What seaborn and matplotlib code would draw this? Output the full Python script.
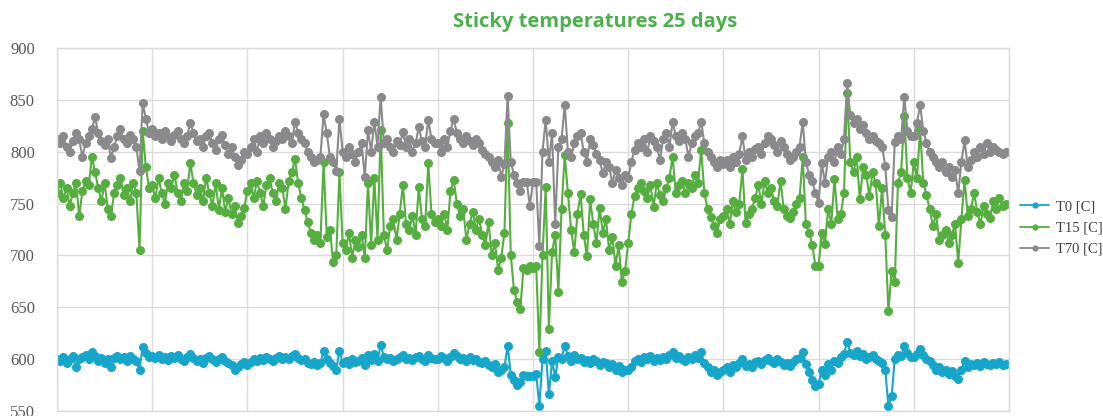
import matplotlib
matplotlib.use("Agg")
import matplotlib.pyplot as plt
import numpy as np
import pandas as pd
import seaborn as sns
from matplotlib.ticker import MultipleLocator, NullFormatter

# Temperature readings over 25 days (300 samples, 12 per day)
t0 = [
    600, 598, 602, 596, 600, 603, 592, 600, 602, 604, 600, 607, 603, 598, 601, 596, 600, 592, 601, 603, 600, 602, 598, 603, 600, 598, 590, 612, 606, 602,
    603, 601, 604, 600, 602, 599, 603, 601, 604, 600, 598, 602, 605, 601, 598, 600, 596, 601, 603, 600, 597, 600, 602, 598, 596, 594, 590, 592, 595, 597,
    594, 597, 600, 598, 601, 599, 602, 600, 598, 601, 603, 600, 602, 600, 603, 605, 601, 599, 600, 596, 595, 597, 594, 596, 608, 600, 596, 593, 590, 608,
    596, 598, 595, 600, 597, 598, 601, 594, 604, 599, 605, 598, 614, 602, 600, 601, 598, 600, 602, 604, 600, 601, 599, 602, 603, 600, 598, 604, 601, 600,
    600, 603, 601, 598, 602, 606, 603, 600, 601, 598, 602, 599, 600, 597, 596, 598, 594, 592, 595, 588, 590, 592, 613, 585, 580, 575, 578, 585, 584, 584,
    584, 586, 555, 600, 608, 566, 598, 583, 602, 600, 613, 603, 598, 604, 600, 601, 597, 599, 596, 600, 598, 594, 597, 596, 592, 595, 590, 593, 588, 590,
    590, 592, 598, 600, 597, 602, 600, 603, 598, 601, 599, 602, 600, 604, 607, 601, 603, 600, 598, 602, 600, 604, 601, 607, 596, 592, 588, 590, 585, 588,
    590, 592, 588, 594, 592, 596, 600, 593, 595, 592, 597, 598, 595, 599, 601, 598, 596, 600, 597, 594, 596, 593, 597, 600, 601, 607, 595, 588, 580, 574,
    576, 590, 585, 595, 590, 598, 596, 602, 605, 617, 606, 604, 608, 603, 605, 600, 602, 604, 600, 598, 596, 590, 555, 564, 600, 604, 603, 613, 606, 602,
    602, 605, 610, 604, 600, 598, 594, 590, 592, 588, 590, 586, 589, 584, 581, 590, 598, 592, 595, 594, 596, 593, 597, 595, 594, 596, 595, 597, 594, 595,
]

t15 = [
    760, 770, 755, 765, 748, 760, 770, 738, 762, 772, 768, 795, 780, 765, 752, 770, 745, 738, 760, 768, 775, 758, 765, 752, 770, 760, 705, 820, 785, 765,
    768, 755, 775, 760, 750, 770, 765, 778, 760, 752, 770, 762, 789, 770, 758, 765, 752, 775, 760, 748, 770, 744, 765, 742, 755, 740, 748, 731, 738, 746,
    762, 770, 755, 772, 760, 748, 768, 775, 760, 752, 770, 765, 745, 772, 780, 793, 770, 755, 744, 732, 722, 715, 720, 712, 790, 718, 725, 694, 700, 780,
    712, 705, 722, 698, 715, 708, 720, 698, 770, 710, 775, 715, 821, 720, 705, 728, 735, 715, 740, 768, 730, 725, 738, 720, 766, 735, 728, 789, 740, 732,
    735, 728, 740, 725, 762, 773, 750, 738, 745, 715, 730, 742, 725, 735, 720, 710, 732, 700, 712, 686, 698, 722, 828, 700, 667, 655, 648, 688, 686, 690,
    688, 690, 607, 700, 766, 629, 703, 720, 665, 745, 797, 760, 725, 703, 740, 759, 720, 699, 754, 730, 712, 746, 722, 735, 705, 718, 690, 710, 674, 685,
    712, 740, 757, 765, 770, 762, 755, 768, 747, 770, 758, 752, 765, 775, 795, 760, 768, 772, 760, 770, 765, 778, 770, 802, 760, 745, 737, 728, 722, 735,
    738, 745, 730, 752, 742, 750, 783, 731, 740, 745, 755, 768, 750, 772, 760, 765, 752, 748, 772, 745, 738, 736, 742, 750, 755, 795, 730, 722, 710, 690,
    690, 722, 711, 745, 730, 774, 735, 740, 760, 857, 790, 780, 795, 754, 785, 778, 757, 780, 770, 728, 765, 720, 646, 685, 674, 770, 780, 834, 775, 760,
    790, 775, 821, 770, 758, 745, 728, 740, 715, 720, 725, 712, 720, 730, 693, 735, 773, 738, 745, 760, 742, 730, 748, 740, 736, 752, 745, 755, 748, 750,
]

t70 = [
    812, 808, 815, 805, 800, 810, 818, 812, 795, 808, 815, 822, 833, 818, 810, 806, 812, 794, 805, 815, 822, 812, 808, 816, 812, 805, 781, 847, 832, 818,
    822, 815, 818, 812, 820, 814, 810, 816, 820, 812, 808, 815, 828, 818, 810, 812, 805, 815, 818, 808, 802, 812, 816, 806, 798, 805, 795, 787, 792, 800,
    798, 805, 812, 800, 815, 808, 818, 812, 805, 810, 815, 812, 820, 815, 808, 829, 818, 812, 808, 800, 795, 790, 792, 795, 836, 818, 795, 790, 781, 832,
    800, 795, 805, 798, 790, 800, 808, 776, 821, 800, 829, 805, 853, 808, 812, 805, 800, 810, 806, 819, 805, 812, 800, 808, 824, 810, 805, 831, 812, 808,
    808, 800, 812, 805, 820, 832, 818, 812, 808, 815, 810, 806, 812, 808, 802, 798, 795, 790, 785, 792, 776, 788, 854, 790, 778, 770, 762, 771, 771, 748,
    771, 771, 709, 800, 831, 790, 818, 730, 805, 812, 845, 800, 795, 808, 815, 818, 800, 790, 812, 806, 798, 792, 779, 790, 785, 770, 782, 775, 768, 778,
    775, 790, 802, 808, 805, 812, 800, 815, 810, 805, 792, 812, 818, 805, 829, 815, 810, 818, 812, 795, 808, 815, 818, 829, 808, 800, 795, 790, 785, 792,
    788, 792, 785, 795, 790, 798, 815, 792, 800, 795, 803, 805, 798, 808, 815, 812, 806, 800, 810, 805, 798, 792, 795, 800, 805, 829, 790, 778, 772, 760,
    751, 789, 770, 795, 800, 790, 805, 798, 812, 866, 835, 828, 832, 822, 826, 818, 812, 815, 810, 808, 805, 786, 744, 737, 809, 815, 812, 853, 820, 815,
    815, 828, 845, 820, 808, 800, 795, 790, 785, 790, 780, 785, 776, 782, 760, 790, 811, 785, 792, 800, 795, 805, 798, 808, 800, 805, 802, 800, 798, 800,
]

series_names = ["T0 [C]", "T15 [C]", "T70 [C]"]
series_colors = ["#16A6C9", "#55AE3F", "#8A8A8C"]
y_ticks = [550, 600, 650, 700, 750, 800, 850, 900]
title = "Sticky temperatures 25 days"

samples = np.arange(len(t0))
df = pd.DataFrame({
    "sample": np.concatenate([samples, samples, samples]),
    "value": np.concatenate([t0, t15, t70]),
    "series": np.repeat(series_names, len(samples)),
})

sns.set_theme(style="whitegrid")
plt.rcParams["font.family"] = ["DejaVu Sans"]

W, H = 1103, 416
fig = plt.figure(figsize=(W / 100, H / 100), dpi=100)
ax = fig.add_axes([57 / W, 5 / H, 952 / W, 363 / H])

sns.lineplot(
    data=df, x="sample", y="value", hue="series",
    palette=dict(zip(series_names, series_colors)),
    marker="o", markersize=6.5, markeredgewidth=0,
    linewidth=1.5, sort=False, ax=ax, legend=True,
)

ax.set_xlim(0, len(samples))
ax.set_ylim(y_ticks[0], y_ticks[-1])
ax.xaxis.set_major_locator(MultipleLocator(30))
ax.xaxis.set_major_formatter(NullFormatter())
ax.set_yticks(y_ticks)
ax.set_yticklabels([str(v) for v in y_ticks], family="Liberation Serif",
                   fontsize=12, color="#595959")
ax.tick_params(axis="both", length=0, pad=16)
ax.set_xlabel("")
ax.set_ylabel("")
ax.grid(True, color="#DCDCDC", linewidth=1.0)
for sp in ax.spines.values():
    sp.set_color("#DCDCDC")
    sp.set_linewidth(1.0)

handles, labels = ax.get_legend_handles_labels()
ax.get_legend().remove()
leg = fig.legend(
    handles, labels, loc="center left", bbox_to_anchor=(1020 / W, 1 - 228 / H),
    frameon=False, handlelength=2.0, handletextpad=0.5, labelspacing=0.55,
    borderpad=0, borderaxespad=0,
    prop={"family": "Liberation Serif", "size": 10.5},
)
for h in leg.legend_handles:
    h.set_markersize(4.5)
    h.set_linewidth(1.3)
for txt in leg.get_texts():
    txt.set_color("#404040")

fig.text(595 / W, 1 - 22 / H, title, ha="center", va="center",
         fontsize=14.5, fontweight="bold", color="#4DB04E", family="Open Sans")

fig.savefig("out.png", dpi=100)
